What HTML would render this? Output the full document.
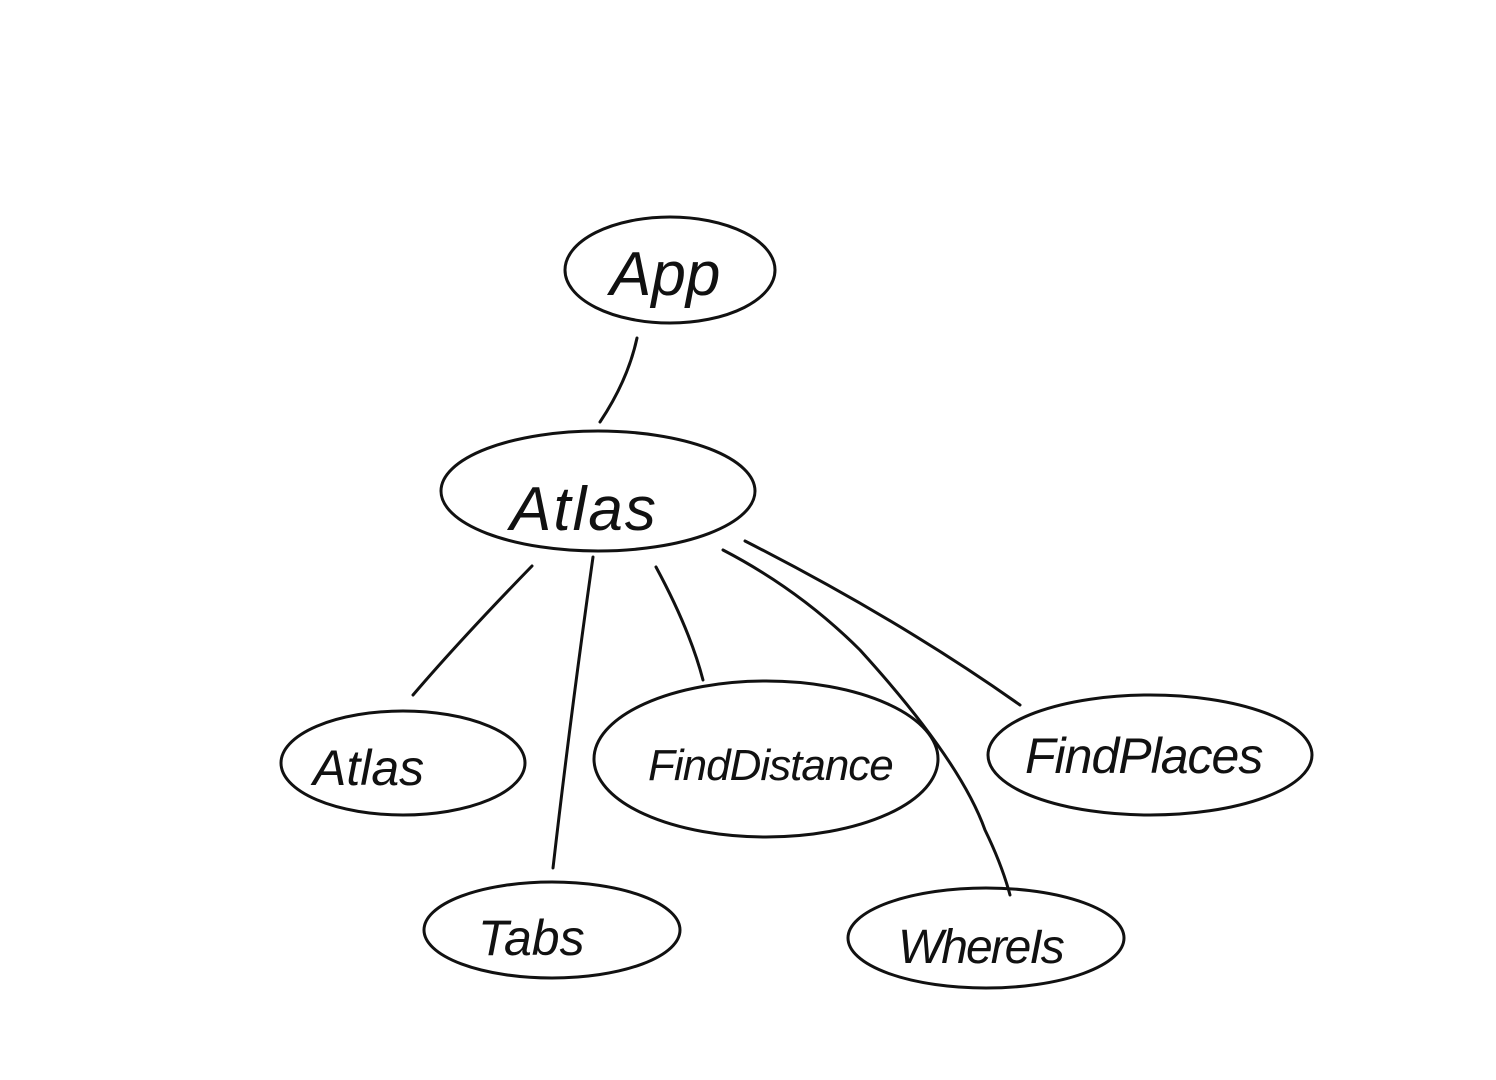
<!DOCTYPE html>
<html><head><meta charset="utf-8"><style>
html,body{margin:0;padding:0;background:#fff;}
svg{display:block}
text{font-family:"Liberation Sans",sans-serif;fill:#111;font-weight:normal}
</style></head><body>
<svg width="1496" height="1080" viewBox="0 0 1496 1080" xmlns="http://www.w3.org/2000/svg">
<g fill="none" stroke="#111" stroke-width="3" stroke-linecap="round">
<ellipse cx="670" cy="270" rx="105" ry="53"/>
<ellipse cx="598" cy="491" rx="157" ry="60"/>
<ellipse cx="403" cy="763" rx="122" ry="52"/>
<ellipse cx="766" cy="759" rx="172" ry="78"/>
<ellipse cx="1150" cy="755" rx="162" ry="60"/>
<ellipse cx="552" cy="930" rx="128" ry="48"/>
<ellipse cx="986" cy="938" rx="138" ry="50"/>
<path d="M637 338 Q628 380 600 422"/>
<path d="M532 566 Q460 640 413 695"/>
<path d="M593 557 Q570 720 553 868"/>
<path d="M656 567 Q690 630 703 680"/>
<path d="M723 550 Q800 590 860 650 Q960 760 985 830 Q1002 865 1010 895"/>
<path d="M745 541 Q900 620 1020 705"/>
</g>
<text x="610" y="295" font-size="62" font-style="italic">App</text>
<text x="510" y="530" font-size="62" font-style="italic" letter-spacing="2">Atlas</text>
<text x="313" y="785" font-size="50" font-style="italic">Atlas</text>
<text x="648" y="780" font-size="44" font-style="italic" letter-spacing="-1">FindDistance</text>
<text x="1025" y="773" font-size="50" font-style="italic" letter-spacing="-1">FindPlaces</text>
<text x="478" y="955" font-size="50" font-style="italic">Tabs</text>
<text x="898" y="963" font-size="48" font-style="italic" letter-spacing="-2">WhereIs</text>
</svg>
</body></html>
